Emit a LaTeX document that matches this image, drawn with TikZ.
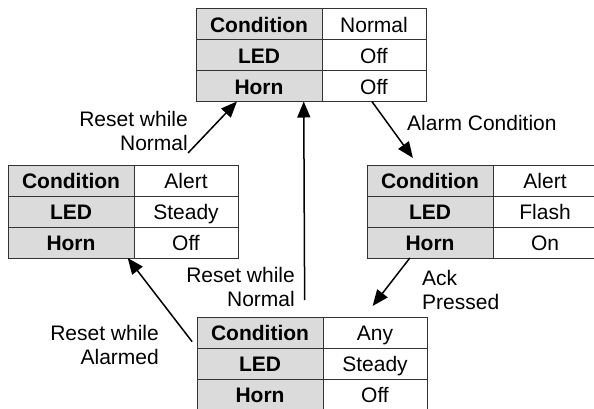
\documentclass[tikz,border=0pt]{standalone}
\usepackage{fontspec}
\setmainfont{Liberation Sans}
\usetikzlibrary{arrows.meta,positioning,calc}

\begin{document}
\begin{tikzpicture}[x=1pt,y=-1pt,
  node distance=0pt,
  keycell/.style={draw=black!80,fill=black!14,line width=0.8pt,minimum width=126pt,minimum height=31pt,inner sep=0pt,outer sep=0pt,text height=19.5pt,text depth=3pt,font=\fontsize{21}{23}\selectfont\bfseries},
  valcell/.style={keycell,fill=white,minimum width=104pt,font=\fontsize{21}{23}\selectfont},
  arr/.style={-{Triangle[length=16pt,width=13pt]},line width=1.5pt},
  evt/.style={inner sep=0pt,font=\fontsize{21}{23.5}\selectfont}
]
\useasboundingbox (0,0) rectangle (594,408);

% Normal state
\node[keycell] (topck) at (259,24) {Condition};
\node[valcell,right=of topck] (topcv) {Normal};
\node[keycell,below=of topck] (toplk) {LED};
\node[valcell,right=of toplk] (toplv) {Off};
\node[keycell,below=of toplk] (tophk) {Horn};
\node[valcell,right=of tophk] (tophv) {Off};

% Alert, silenced
\node[keycell] (leftck) at (71,180.5) {Condition};
\node[valcell,right=of leftck] (leftcv) {Alert};
\node[keycell,below=of leftck] (leftlk) {LED};
\node[valcell,right=of leftlk] (leftlv) {Steady};
\node[keycell,below=of leftlk] (lefthk) {Horn};
\node[valcell,right=of lefthk] (lefthv) {Off};

% Alarm active
\node[keycell] (rightck) at (430,180.5) {Condition};
\node[valcell,right=of rightck] (rightcv) {Alert};
\node[keycell,below=of rightck] (rightlk) {LED};
\node[valcell,right=of rightlk] (rightlv) {Flash};
\node[keycell,below=of rightlk] (righthk) {Horn};
\node[valcell,right=of righthk] (righthv) {On};

% Acknowledged
\node[keycell] (botck) at (260,332.5) {Condition};
\node[valcell,right=of botck] (botcv) {Any};
\node[keycell,below=of botck] (botlk) {LED};
\node[valcell,right=of botlk] (botlv) {Steady};
\node[keycell,below=of botlk] (bothk) {Horn};
\node[valcell,right=of bothk] (bothv) {Off};

% Transition labels
\node[evt,align=right,anchor=east] (lblrn1) at (188,131) {Reset while\\Normal};
\node[evt,align=right,anchor=east] (lblrn2) at (295,287) {Reset while\\Normal};
\node[evt,anchor=west] (lblalarm) at (407,123) {Alarm Condition};
\node[evt,align=left,anchor=west] (lblack) at (422,290) {Ack\\Pressed};
\node[evt,align=right,anchor=east] (lblra) at (159,345) {Reset while\\Alarmed};

% Transitions
\draw[arr,shorten <=16.6pt] ($(leftcv.north west)!0.41!(leftcv.north east)$) -- ($(tophk.south west)!0.325!(tophk.south east)$);
\draw[arr,shorten <=17pt] ($(botck.north west)!0.855!(botck.north east)$) -- ($(tophk.south west)!0.855!(tophk.south east)$);
\draw[arr,shorten >=8.7pt] ($(tophv.south west)!0.48!(tophv.south east)$) -- ($(rightck.north west)!0.405!(rightck.north east)$);
\draw[arr,shorten >=14pt] ($(righthk.south west)!0.34!(righthk.south east)$) -- ($(botcv.north west)!0.395!(botcv.north east)$);
\draw[arr,shorten <=8pt] (botck.south west) -- ($(lefthk.south west)!0.95!(lefthk.south east)$);

\end{tikzpicture}
\end{document}
